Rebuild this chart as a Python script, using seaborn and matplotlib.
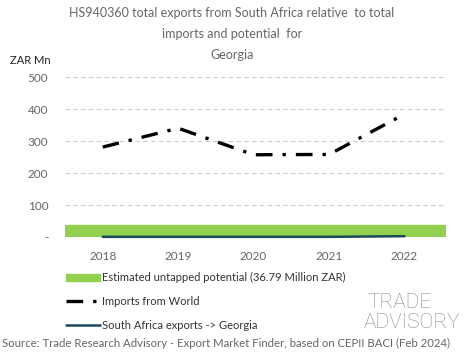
import matplotlib
matplotlib.use('Agg')
import matplotlib.pyplot as plt
import matplotlib.patches as mpatches
import matplotlib.lines as mlines
import seaborn as sns
import pandas as pd

# ── Data ───────────────────────────────────────────────────────────────────────
years          = [2018, 2019, 2020, 2021, 2022]
imports_world  = [281, 340, 257, 258, 384]
sa_exports     = [0.5, 0.5, 0.5, 0.5, 2.5]
potential      = 36.79
y_ticks        = [0, 100, 200, 300, 400, 500]
y_tick_labels  = ['-', '100', '200', '300', '400', '500']

df = pd.DataFrame({'year': years, 'imports': imports_world, 'exports': sa_exports})

GREEN = '#92d050'
DARK  = '#1b4a5a'
GREY  = '#666666'

sns.set_style('white')
plt.rcParams['font.family'] = ['Lato', 'DejaVu Sans']

fig = plt.figure(figsize=(4.65, 3.59), dpi=100)
ax = fig.add_axes([65/465, 1 - 237/359, 381/465, 160/359])

# untapped potential band
ax.axhspan(0, potential, color=GREEN, zorder=1)

sns.lineplot(data=df, x='year', y='imports', ax=ax, color='black',
             linewidth=2.4, linestyle=(0, (5, 3, 1, 3)), zorder=3)
sns.lineplot(data=df, x='year', y='exports', ax=ax, color=DARK,
             linewidth=1.8, zorder=2, clip_on=False)

ax.set_xlim(2017.5, 2022.55)
ax.set_ylim(0, 500)
ax.set_xticks(years)
ax.set_xticklabels([str(y) for y in years], color=GREY, fontsize=8.5)
ax.set_yticks(y_ticks)
ax.set_yticklabels(y_tick_labels, color=GREY, fontsize=8.5)
ax.tick_params(axis='x', length=0, pad=10)
ax.tick_params(axis='y', length=0, pad=12)
ax.set_xlabel('')
ax.set_ylabel('')
ax.grid(axis='y', color='#cccccc', linestyle=(0, (4, 3)), linewidth=0.8)
ax.set_axisbelow(True)
for s in ax.spines.values():
    s.set_visible(False)

# ── Titles ─────────────────────────────────────────────────────────────────────
fig.text(232/465, 1 - 13/359, 'HS940360 total exports from South Africa relative  to total',
         ha='center', va='center', color=GREY, fontsize=9)
fig.text(232/465, 1 - 34/359, 'imports and potential  for',
         ha='center', va='center', color=GREY, fontsize=9)
fig.text(232/465, 1 - 55/359, 'Georgia',
         ha='center', va='center', color=GREY, fontsize=9)
fig.text(10/465, 1 - 60/359, 'ZAR Mn', ha='left', va='center', color='#222222', fontsize=8)

# ── Legend ─────────────────────────────────────────────────────────────────────
handles = [
    mpatches.Patch(color=GREEN, label='Estimated untapped potential (36.79 Million ZAR)'),
    mlines.Line2D([], [], color='black', linewidth=2.4, linestyle=(0, (5, 3, 1, 3)),
                  label='Imports from World'),
    mlines.Line2D([], [], color=DARK, linewidth=1.8, label='South Africa exports -> Georgia'),
]
fig.legend(handles=handles, loc='upper left', bbox_to_anchor=(62/465, 1 - 268/359),
           frameon=False, fontsize=8, labelcolor='#333333', handlelength=3.0,
           handletextpad=0.2, labelspacing=1.15, borderaxespad=0)

# logo
fig.text(367/465, 1 - 303/359, 'TRADE', ha='left', va='center', color='#8c8c8c',
         fontsize=15, family='Roboto', fontweight='light')
fig.text(364/465, 1 - 323/359, 'ADVISORY', ha='left', va='center', color='#8c8c8c',
         fontsize=15, family='Roboto', fontweight='light')

fig.text(2/465, 1 - 343/359,
         'Source: Trade Research Advisory - Export Market Finder, based on CEPII BACI (Feb 2024)',
         ha='left', va='center', color=GREY, fontsize=8.2)

fig.savefig('out.png', dpi=100)
